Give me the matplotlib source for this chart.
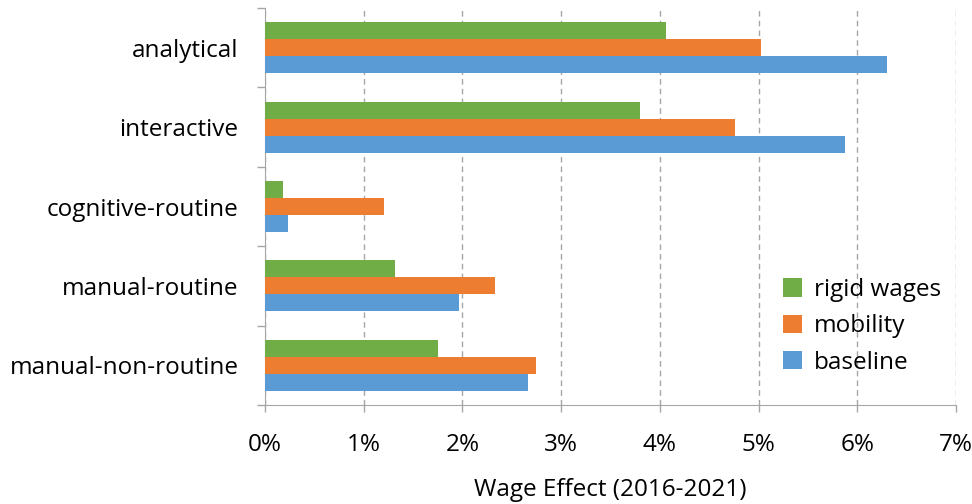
import numpy as np
import matplotlib.pyplot as plt
from matplotlib.ticker import FuncFormatter

plt.rcParams['font.family'] = ['Open Sans', 'DejaVu Sans']

categories = ['analytical', 'interactive', 'cognitive-routine',
              'manual-routine', 'manual-non-routine']
rigid_wages = [4.06, 3.80, 0.18, 1.32, 1.75]
mobility = [5.02, 4.76, 1.21, 2.33, 2.75]
baseline = [6.30, 5.88, 0.23, 1.97, 2.66]

fs = 17.5

fig = plt.figure(figsize=(9.72, 5.04), dpi=100)
ax = fig.add_axes([265 / 972, 1 - 405 / 504, 691 / 972, 397 / 504])

pos = np.arange(len(categories))[::-1]
h = 0.214
ax.barh(pos + h, rigid_wages, height=h, color='#70AD47', label='rigid wages', zorder=3)
ax.barh(pos, mobility, height=h, color='#ED7D31', label='mobility', zorder=3)
ax.barh(pos - h, baseline, height=h, color='#5B9BD5', label='baseline', zorder=3)

ax.set_xlim(0, 7)
ax.set_ylim(-0.5, len(categories) - 0.5)
ax.set_xticks(range(8))
ax.xaxis.set_major_formatter(FuncFormatter(lambda v, p: f'{v:.0f}%'))
ax.grid(axis='x', linestyle=(0, (4, 3)), color='#a6a6a6', lw=1, zorder=0)

# category labels centred, tick marks on category boundaries
ax.set_yticks(np.arange(-0.5, len(categories)), minor=False)
ax.set_yticklabels([])
ax.set_yticks(pos, minor=True)
ax.set_yticklabels(categories, minor=True, fontsize=fs)
ax.tick_params(axis='y', which='minor', length=0, pad=19)
ax.tick_params(axis='y', which='major', length=6, color='#a6a6a6', width=1)
ax.tick_params(axis='x', length=5, color='#a6a6a6', width=1, labelsize=fs, pad=15)

for s in ['top', 'right']:
    ax.spines[s].set_visible(False)
for s in ['left', 'bottom']:
    ax.spines[s].set_color('#a6a6a6')

ax.set_xlabel('Wage Effect (2016-2021)', fontsize=fs, labelpad=15)

ax.legend(loc='lower right', bbox_to_anchor=(1.0, 0.04), frameon=False,
          fontsize=fs, handlelength=0.8, handleheight=0.8, handletextpad=0.5,
          labelspacing=0.5, borderaxespad=0.2)

fig.savefig('out.png', dpi=100)
